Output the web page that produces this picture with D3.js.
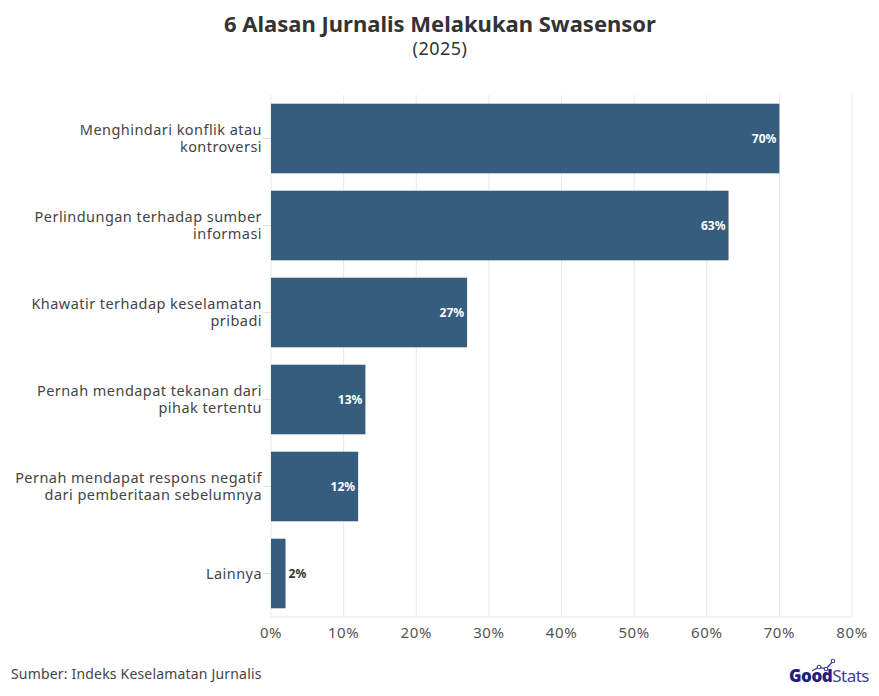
<!DOCTYPE html>
<html><head><meta charset="utf-8">
<script src="https://cdn.jsdelivr.net/npm/d3@7"></script>
<style>body{margin:0;background:#fff;} svg{display:block;}</style>
</head><body>
<svg id="c" width="879" height="696"></svg>
<script>
const categories = [
  ["Menghindari konflik atau", "kontroversi"],
  ["Perlindungan terhadap sumber", "informasi"],
  ["Khawatir terhadap keselamatan", "pribadi"],
  ["Pernah mendapat tekanan dari", "pihak tertentu"],
  ["Pernah mendapat respons negatif", "dari pemberitaan sebelumnya"],
  ["Lainnya"]
];
const values = [70, 63, 27, 13, 12, 2];
const tickValues = [0, 10, 20, 30, 40, 50, 60, 70, 80];

const svg = d3.select("#c");
const font = "'Noto Sans', 'Open Sans', sans-serif";
const x = d3.scaleLinear().domain([0, 80]).range([271, 852]);
const y = d3.scaleBand().domain(d3.range(values.length)).range([95, 617]).paddingInner(0.2).paddingOuter(0.1);

// grid
svg.append("g").selectAll("line").data(tickValues).join("line")
  .attr("x1", d => x(d)).attr("x2", d => x(d))
  .attr("y1", 95).attr("y2", 617)
  .attr("stroke", "#e8e8e8").attr("stroke-width", 1);
svg.append("line").attr("x1", 271).attr("x2", 852).attr("y1", 617).attr("y2", 617)
  .attr("stroke", "#e8e8e8");

// y ticks
svg.append("g").selectAll("line").data(d3.range(values.length)).join("line")
  .attr("x1", 263).attr("x2", 271)
  .attr("y1", i => y(i) + y.bandwidth()/2).attr("y2", i => y(i) + y.bandwidth()/2)
  .attr("stroke", "#e0e0e0");

// bars
svg.append("g").selectAll("rect").data(values).join("rect")
  .attr("x", x(0)).attr("y", (d, i) => y(i))
  .attr("width", d => x(d) - x(0)).attr("height", y.bandwidth())
  .attr("fill", "#365d7e");

// value labels
svg.append("g").selectAll("text").data(values).join("text")
  .attr("x", d => d >= 5 ? x(d) - 3 : x(d) + 3)
  .attr("y", (d, i) => y(i) + y.bandwidth()/2)
  .attr("dy", "0.35em")
  .attr("text-anchor", d => d >= 5 ? "end" : "start")
  .attr("font-family", font).attr("font-weight", "bold").attr("font-size", 12)
  .attr("fill", d => d >= 5 ? "#ffffff" : "#333333")
  .text(d => d + "%");

// category labels
const lh = 17;
const lab = svg.append("g").selectAll("text").data(categories).join("text")
  .attr("text-anchor", "end")
  .attr("font-family", font).attr("font-size", 14.5).attr("letter-spacing", "0.45")
  .attr("fill", "#444");
lab.each(function(lines, i) {
  const cy = y(i) + y.bandwidth()/2;
  const start = cy - (lines.length - 1) * lh / 2;
  d3.select(this).selectAll("tspan").data(lines).join("tspan")
    .attr("x", 262).attr("y", (l, j) => start + j * lh).attr("dy", "0.35em").text(l => l);
});

// x tick labels
svg.append("g").selectAll("text").data(tickValues).join("text")
  .attr("x", d => x(d)).attr("y", 633).attr("dy", "0.35em")
  .attr("text-anchor", "middle")
  .attr("font-family", font).attr("font-size", 15).attr("letter-spacing", "0.6").attr("fill", "#555")
  .text(d => d + "%");

// title
svg.append("text").attr("x", 440).attr("y", 32).attr("text-anchor", "middle")
  .attr("font-family", font).attr("font-weight", "bold").attr("font-size", 22).attr("fill", "#333")
  .text("6 Alasan Jurnalis Melakukan Swasensor");
svg.append("text").attr("x", 440).attr("y", 55).attr("text-anchor", "middle")
  .attr("font-family", font).attr("font-size", 18).attr("letter-spacing", "0.5").attr("fill", "#333")
  .text("(2025)");

// source
svg.append("text").attr("x", 11).attr("y", 679)
  .attr("font-family", font).attr("font-size", 14).attr("letter-spacing", "0.18").attr("fill", "#444")
  .text("Sumber: Indeks Keselamatan Jurnalis");

// logo
const logo = svg.append("text").attr("x", 789).attr("y", 682)
  .attr("font-family", font).attr("font-size", 17).attr("letter-spacing", "-0.5");
logo.append("tspan").attr("font-weight", "900").attr("fill", "#1c1f7d").text("Good");
logo.append("tspan").attr("font-weight", "normal").attr("fill", "#3d3fa0").text("Stats");
svg.append("polyline").attr("points", "812,671 819,667 826,669 833,661")
  .attr("fill", "none").attr("stroke", "#3d3fa0").attr("stroke-width", 1.3);
svg.append("g").selectAll("circle").data([[819,667],[826,669],[833,661]]).join("circle")
  .attr("cx", d => d[0]).attr("cy", d => d[1]).attr("r", 1.8)
  .attr("fill", "#fff").attr("stroke", "#3d3fa0").attr("stroke-width", 1.1);
</script>
</body></html>
